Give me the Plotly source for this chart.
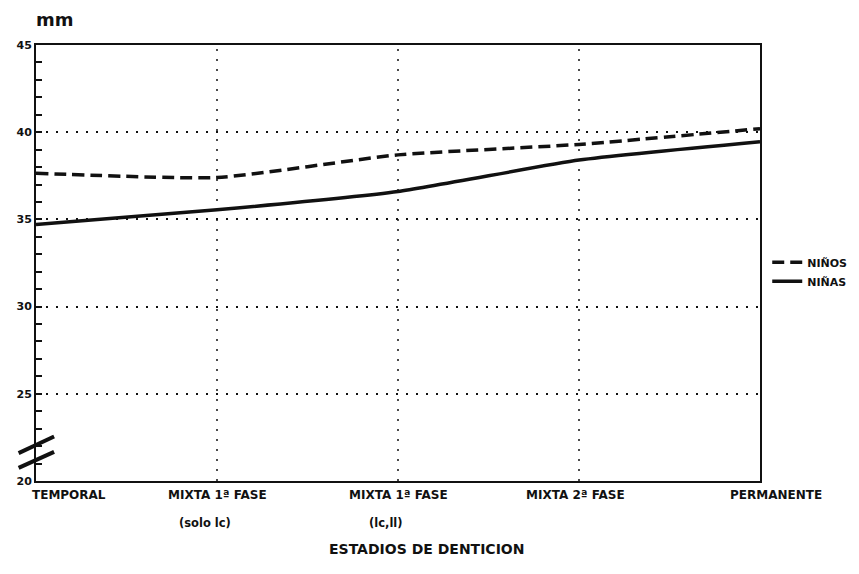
import plotly.graph_objects as go

# estadios de denticion
ESTADIOS = ["TEMPORAL", "MIXTA 1ª FASE", "MIXTA 1ª FASE", "MIXTA 2ª FASE", "PERMANENTE"]
ESTADIOS_SUB = ["", "(solo lc)", "(lc,ll)", "", ""]
NINOS = [37.65, 37.4, 38.7, 39.3, 40.2]
NINAS = [34.7, 35.55, 36.6, 38.4, 39.45]
Y_TICKS = [20, 25, 30, 35, 40, 45]

FONT = "DejaVu Sans"
BLACK = "#111111"
GRID_DASH = "2px,8px"

x_idx = list(range(len(ESTADIOS)))

fig = go.Figure()
fig.add_trace(go.Scatter(
    x=x_idx, y=NINOS, name="NIÑOS", mode="lines",
    line=dict(color=BLACK, width=3.5, dash="12px,6px", shape="spline", smoothing=0.5)))
fig.add_trace(go.Scatter(
    x=x_idx, y=NINAS, name="NIÑAS", mode="lines",
    line=dict(color=BLACK, width=3.5, shape="spline", smoothing=0.5)))

# lineas verticales punteadas en los estadios intermedios
for i in x_idx[1:-1]:
    fig.add_shape(type="line", xref="x", yref="paper", x0=i, x1=i, y0=0, y1=1,
                  line=dict(color=BLACK, width=1.5, dash=GRID_DASH), layer="below")

# etiquetas del eje x
label_shift = [-6, 0, 0, -4, 16]
label_anchor = ["left", "center", "center", "center", "center"]
for i, (lab, sub) in enumerate(zip(ESTADIOS, ESTADIOS_SUB)):
    fig.add_annotation(x=i, y=0, xref="x", yref="paper", text=lab, showarrow=False,
                       xanchor=label_anchor[i], yanchor="top", xshift=label_shift[i], yshift=-5,
                       font=dict(family=FONT, size=12, color=BLACK, weight="bold"))
    if sub:
        fig.add_annotation(x=i, y=0, xref="x", yref="paper", text=sub, showarrow=False,
                           xanchor="center", yanchor="top", xshift=-12, yshift=-33,
                           font=dict(family=FONT, size=11.5, color=BLACK, weight="bold"))

# marca de corte en el eje y
for y0, y1 in [(21.6, 22.55), (20.75, 21.67)]:
    fig.add_shape(type="line", xref="paper", yref="y", x0=-0.024, x1=0.025, y0=y0, y1=y1,
                  line=dict(color=BLACK, width=4))

fig.add_annotation(x=0, y=1, xref="paper", yref="paper", text="mm", showarrow=False,
                   xanchor="left", yanchor="bottom", xshift=-2, yshift=13,
                   font=dict(family=FONT, size=18, color=BLACK, weight="bold"))
fig.add_annotation(x=0.54, y=0, xref="paper", yref="paper", text="ESTADIOS DE DENTICION",
                   showarrow=False, xanchor="center", yanchor="top", yshift=-58,
                   font=dict(family=FONT, size=14, color=BLACK, weight="bold"))

# la pagina deja ~8px de margen, se compensa aqui
fig.update_layout(
    width=851, height=566,
    margin=dict(l=28, r=99, t=37, b=93, autoexpand=False),
    paper_bgcolor="white", plot_bgcolor="white",
    showlegend=True,
    legend=dict(x=1.01, y=0.48, xanchor="left", yanchor="middle", itemwidth=30,
                font=dict(family=FONT, size=11, color=BLACK, weight="bold"),
                bgcolor="rgba(0,0,0,0)", tracegroupgap=2),
    xaxis=dict(range=[0, len(ESTADIOS) - 1], showticklabels=False, showgrid=False,
               zeroline=False, showline=True, linecolor=BLACK, linewidth=2, mirror=True,
               ticks=""),
    yaxis=dict(range=[20, 45], tickvals=Y_TICKS, showgrid=True, gridcolor=BLACK,
               griddash=GRID_DASH, gridwidth=1.5, zeroline=False, automargin=False,
               showline=True, linecolor=BLACK, linewidth=2, mirror=True,
               ticks="inside", ticklen=6, tickwidth=1.5, tickcolor=BLACK,
               minor=dict(dtick=1, ticks="inside", ticklen=6, tickwidth=1.5, tickcolor=BLACK),
               tickfont=dict(family=FONT, size=11, color=BLACK, weight="bold")),
)

fig.write_html("out.html")
